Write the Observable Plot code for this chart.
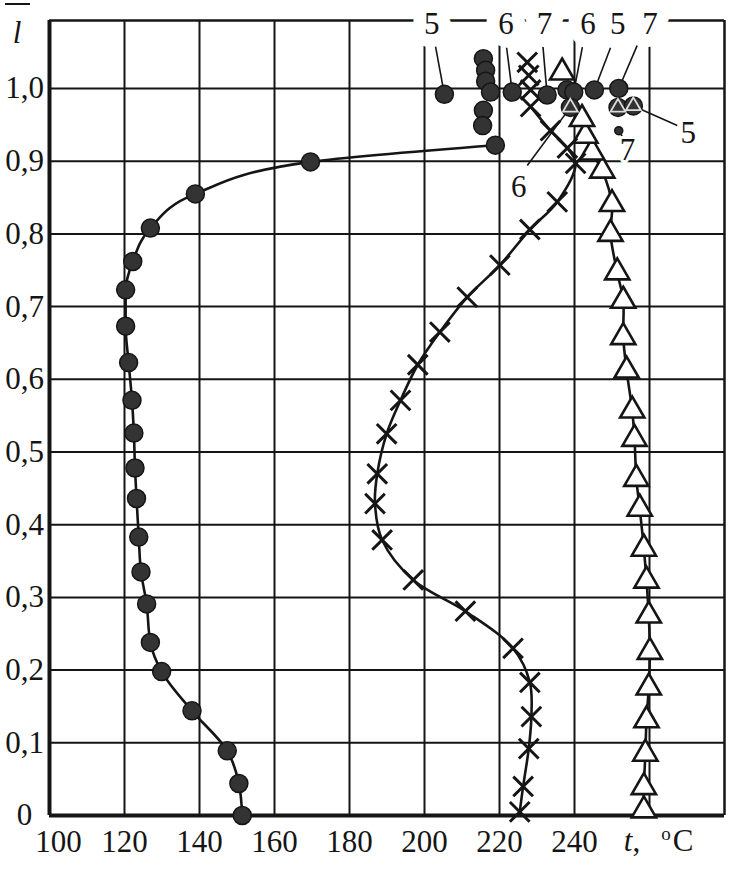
<!DOCTYPE html>
<html><head><meta charset="utf-8">
<script src="https://cdn.jsdelivr.net/npm/d3@7"></script>
<script src="https://cdn.jsdelivr.net/npm/@observablehq/plot@0.6"></script>
<style>body{margin:0;background:#fff}#chart{position:absolute;left:0;top:0}</style>
</head><body><div id="chart"></div>
<script>
// Curve 5 (circles), bottom to top
const s5T = [151.4,150.5,147.4,138.0,129.9,126.9,125.9,124.4,123.8,123.2,122.8,122.5,122.0,121.1,120.3,120.3,122.2,126.9,138.9,169.6,218.9];
const s5L = [0.0,0.044,0.089,0.144,0.198,0.238,0.291,0.335,0.383,0.436,0.478,0.526,0.571,0.623,0.673,0.723,0.762,0.808,0.855,0.899,0.922];
// Curve 5 loose points at the top
const s5topT = [215.7,216.3,216.3,217.6,215.7,215.5];
const s5topL = [1.041,1.025,1.010,0.995,0.970,0.949];
// Curve 6 (crosses)
const s6T = [225.4,226.3,227.8,228.5,228.1,223.6,210.9,197.0,188.7,186.8,187.4,189.9,193.6,198.2,204.1,211.4,220.1,228.1,235.4,240.3,238.1,233.6,228.3];
const s6L = [0.005,0.040,0.092,0.136,0.183,0.230,0.281,0.324,0.379,0.429,0.470,0.525,0.571,0.620,0.665,0.713,0.757,0.806,0.844,0.897,0.918,0.942,0.975];
const s6topT = [227.4,227.8,228.3];
const s6topL = [1.036,1.018,0.998];
// Curve 7 (triangles)
const s7T = [258.5,258.5,258.9,259.2,259.8,260.1,259.8,259.2,258.5,257.4,256.5,256.0,255.4,253.9,253.0,253.0,251.4,249.6,250.0,247.4,244.7,242.9,242.0];
const s7L = [0.007,0.039,0.085,0.131,0.176,0.225,0.275,0.323,0.367,0.422,0.463,0.518,0.557,0.612,0.658,0.708,0.747,0.800,0.841,0.887,0.912,0.935,0.958];
const s7topT = [236.7];
const s7topL = [1.022];
// Exit points (circles) and circled triangles near l = 1
const exitT = [205.3,223.4,232.7,238.0,239.8,245.3,251.8];
const exitL = [0.992,0.995,0.991,0.998,0.995,0.998,1.0];
const ctT = [238.9,251.6,255.7];
const ctL = [0.974,0.974,0.976];
const smallT = [251.8];
const smallL = [0.942];
// Curve number labels and leaders
const labText = ["5","6","7","6","5","7","5","7","6"];
const labT = [201.9,221.7,232.0,243.6,251.5,260.1,270.3,254.1,225.1];
const labL = [1.088,1.088,1.088,1.088,1.088,1.088,0.939,0.915,0.864];
const ldT1 = [202.9,221.9,231.5,242.1,249.6,256.7,267.4,253.6,227.4];
const ldL1 = [1.059,1.056,1.063,1.057,1.056,1.059,0.949,0.926,0.894];
const ldT2 = [205.3,223.4,232.7,239.8,245.3,251.8,255.7,251.8,238.9];
const ldL2 = [0.992,0.995,0.991,0.995,0.998,1.0,0.976,0.942,0.974];
// Axes
const xTicks = [100,120,140,160,180,200,220,240];
const xGrid = [120,140,160,180,200,220,240,260];
const yTicks = [0,0.1,0.2,0.3,0.4,0.5,0.6,0.7,0.8,0.9,1.0];
const yGrid = [0.1,0.2,0.3,0.4,0.5,0.6,0.7,0.8,0.9,1.0];
const X_MAX = 280, Y_MAX = 1.0935;

const rows = (T, L) => T.map((t, i) => ({t, l: L[i]}));
const labels = labText.map((s, i) => ({s, t: labT[i], l: labL[i], top: i < 6}));
const leaders = ldT1.map((t, i) => ({t1: t, l1: ldL1[i], t2: ldT2[i], l2: ldL2[i]}));
const fmtY = d => d === 0 ? "0" : d3.format(".1f")(d).replace(".", ",");
const INK = "#151515", DARK = "#333";

const plot = Plot.plot({
  width: 734, height: 872,
  marginLeft: 49, marginRight: 10, marginTop: 20, marginBottom: 57,
  style: {fontFamily: "'Liberation Serif', 'Times New Roman', serif", fontSize: "31px", color: INK, background: "white"},
  x: {domain: [100, X_MAX]},
  y: {domain: [0, Y_MAX]},
  marks: [
    Plot.ruleX(xGrid, {stroke: INK, strokeWidth: 2}),
    Plot.ruleY(yGrid, {stroke: INK, strokeWidth: 2}),
    Plot.ruleY([Y_MAX], {stroke: INK, strokeWidth: 2.5}),
    Plot.ruleX([X_MAX], {stroke: INK, strokeWidth: 2.5}),
    Plot.ruleX([100], {stroke: INK, strokeWidth: 4}),
    Plot.ruleY([0], {stroke: INK, strokeWidth: 4}),
    Plot.axisX(xTicks.filter(d => d > 100), {tickSize: 0, tickPadding: 14, label: null, fontSize: 31}),
    Plot.axisX([100], {tickSize: 0, tickPadding: 14, dx: 9, label: null, fontSize: 31}),
    Plot.axisY(yTicks, {tickSize: 0, tickPadding: 25, textAnchor: "middle", tickFormat: fmtY, label: null, fontSize: 31}),
    Plot.link(leaders, {x1: "t1", y1: "l1", x2: "t2", y2: "l2", stroke: INK, strokeWidth: 1.6}),
    Plot.line(rows(s5T, s5L), {x: "t", y: "l", curve: "monotone-y", stroke: INK, strokeWidth: 2.6}),
    Plot.line(rows(s6T, s6L), {x: "t", y: "l", curve: "catmull-rom", stroke: INK, strokeWidth: 2.6}),
    Plot.line(rows(s7T, s7L), {x: "t", y: "l", curve: "catmull-rom", stroke: INK, strokeWidth: 2.6}),
    Plot.dot(rows(s7T, s7L).concat(rows(s7topT, s7topL)), {x: "t", y: "l", symbol: "triangle", r: 9, fill: "white", stroke: INK, strokeWidth: 2.6}),
    Plot.dot(rows(s6T, s6L).concat(rows(s6topT, s6topL)), {x: "t", y: "l", symbol: "times", r: 9, stroke: INK, strokeWidth: 3}),
    Plot.dot(rows(s5T, s5L).concat(rows(s5topT, s5topL)), {x: "t", y: "l", r: 9, fill: DARK, stroke: INK, strokeWidth: 1.5}),
    Plot.dot(rows(exitT, exitL), {x: "t", y: "l", r: 9, fill: DARK, stroke: INK, strokeWidth: 1.5}),
    Plot.dot(rows(ctT, ctL), {x: "t", y: "l", r: 9, fill: DARK, stroke: INK, strokeWidth: 1.5}),
    Plot.dot(rows(ctT, ctL), {x: "t", y: "l", symbol: "triangle", r: 5.5, fill: "none", stroke: "#ddd", strokeWidth: 1.8}),
    Plot.dot(rows(smallT, smallL), {x: "t", y: "l", r: 4, fill: DARK, stroke: INK}),
    Plot.text(labels.filter(d => d.top), {x: "t", y: "l", text: "s", fill: INK, stroke: "white", strokeWidth: 26, fontSize: 31, lineAnchor: "middle"}),
    Plot.text(labels.filter(d => !d.top), {x: "t", y: "l", text: "s", fill: INK, stroke: "white", strokeWidth: 6, fontSize: 31, lineAnchor: "middle"})
  ]
});
document.getElementById("chart").appendChild(plot);

// Axis titles
const svg = d3.select(plot);
const font = "'Liberation Serif', 'Times New Roman', serif";
const xl = svg.append("text").attr("font-family", font).attr("font-size", 31).attr("fill", INK).attr("y", 851);
xl.append("tspan").attr("x", 632).attr("font-style", "italic").text("t");
xl.append("tspan").text(",");
xl.append("tspan").attr("x", 666).attr("y", 840).attr("font-size", 19).text("o");
xl.append("tspan").attr("x", 683).attr("y", 851).text("C");
svg.append("text").attr("font-family", font).attr("font-size", 31).attr("font-style", "italic")
  .attr("fill", INK).attr("x", 17).attr("y", 43).attr("text-anchor", "middle").text("l");
svg.append("line").attr("x1", 5).attr("x2", 30).attr("y1", 4).attr("y2", 4).attr("stroke", INK).attr("stroke-width", 2);
</script>
</body></html>
